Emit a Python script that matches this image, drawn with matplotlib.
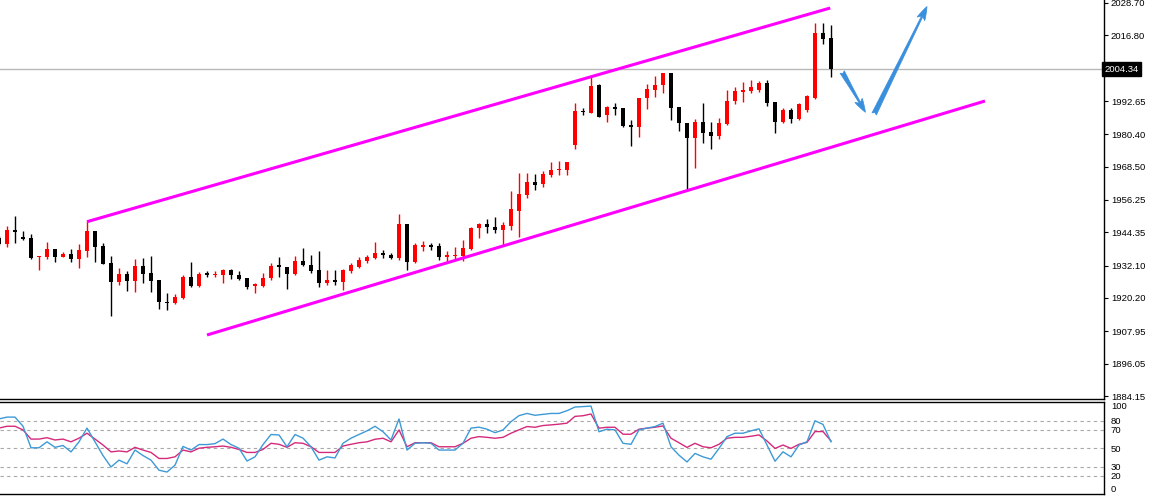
import matplotlib
matplotlib.use("Agg")
import matplotlib.pyplot as plt
import matplotlib.transforms as mtransforms
import numpy as np

plt.rcParams['font.family'] = ['Liberation Sans', 'DejaVu Sans']

# candle data (index -1 is the half visible bar at the left edge)
opens = [1942.37, 1940.06, 1945.21, 1942.74, 1942.26, 1935.17, 1935.17, 1938.11, 1935.28, 1936.38,
         1934.65, 1937.48, 1944.84, 1939.32, 1933.18, 1926.08, 1929.02, 1926.45, 1931.97, 1929.28,
         1926.82, 1918.83, 1918.25, 1920.31, 1927.81, 1924.79, 1929.50, 1928.65, 1928.77, 1930.38,
         1928.77, 1927.44, 1924.61, 1924.72, 1927.44, 1932.08, 1931.71, 1928.91, 1933.80, 1932.44,
         1930.49, 1925.60, 1926.82, 1925.97, 1930.24, 1931.71, 1933.80, 1934.80, 1936.75, 1936.19,
         1934.80, 1947.30, 1933.55, 1939.06, 1939.58, 1939.32, 1935.39, 1935.64, 1935.64, 1938.33,
         1945.83, 1947.41, 1946.42, 1945.21, 1946.79, 1952.19, 1958.08, 1962.97, 1962.01, 1965.32,
         1967.27, 1967.27, 1976.47, 1988.97, 1988.35, 1998.43, 1987.50, 1990.56, 1990.19, 1983.82,
         1983.20, 1993.65, 1996.70, 1998.43, 2002.84, 1990.56, 1984.67, 1979.15, 1985.04, 1981.36,
         1979.78, 1984.19, 1992.65, 1996.07, 1996.33, 1996.59, 1999.38, 1992.39, 1985.04, 1989.34,
         1986.03, 1989.34, 1993.87, 2017.77, 2015.71]
highs = [1943.00, 1946.68, 1950.47, 1944.95, 1943.63, 1935.75, 1940.79, 1938.11, 1937.00, 1938.22,
         1940.17, 1948.63, 1944.84, 1940.54, 1935.64, 1931.12, 1930.24, 1934.54, 1934.80, 1935.64,
         1926.82, 1921.92, 1921.67, 1928.54, 1933.44, 1929.76, 1930.24, 1930.13, 1930.75, 1930.75,
         1930.24, 1927.44, 1925.82, 1929.50, 1932.96, 1935.17, 1931.71, 1935.64, 1938.48, 1936.01,
         1937.59, 1930.49, 1930.49, 1930.75, 1933.18, 1935.17, 1936.01, 1940.90, 1938.03, 1936.86,
         1951.09, 1947.30, 1940.31, 1941.27, 1940.54, 1940.31, 1937.59, 1939.06, 1941.53, 1946.42,
         1947.89, 1949.14, 1949.88, 1948.26, 1959.55, 1966.06, 1966.06, 1965.69, 1966.91, 1970.33,
         1970.58, 1970.33, 1991.81, 1990.19, 2001.85, 1998.79, 1990.92, 1991.81, 1990.19, 1985.66,
         1993.87, 1998.79, 2001.96, 2002.84, 2002.84, 1990.56, 1984.67, 1985.92, 1991.81, 1985.04,
         1986.29, 1996.70, 1997.91, 1999.64, 2000.27, 2000.01, 2000.38, 1992.39, 1989.97, 1989.97,
         1991.81, 1994.86, 2021.23, 2021.23, 2020.60]
lows = [1939.69, 1939.06, 1940.31, 1941.53, 1934.54, 1930.49, 1934.43, 1933.33, 1935.17, 1933.33,
        1931.34, 1935.39, 1933.33, 1932.81, 1913.69, 1924.98, 1922.88, 1922.51, 1925.60, 1922.40,
        1916.15, 1915.78, 1917.99, 1919.94, 1924.35, 1924.24, 1928.03, 1927.81, 1925.82, 1927.29,
        1926.82, 1923.51, 1921.92, 1924.35, 1926.82, 1927.81, 1923.40, 1928.54, 1931.97, 1929.28,
        1924.13, 1924.98, 1924.98, 1923.14, 1929.50, 1931.34, 1933.18, 1934.43, 1935.09, 1934.43,
        1934.17, 1930.49, 1933.18, 1937.59, 1937.85, 1934.17, 1933.91, 1934.17, 1933.80, 1937.85,
        1942.15, 1944.21, 1943.99, 1939.69, 1945.21, 1942.74, 1956.87, 1959.92, 1960.91, 1964.59,
        1965.43, 1965.43, 1974.89, 1987.50, 1988.13, 1986.66, 1985.04, 1987.50, 1983.20, 1976.10,
        1979.52, 1989.60, 1994.01, 1995.48, 1985.66, 1981.62, 1959.92, 1967.90, 1977.09, 1974.89,
        1978.57, 1983.71, 1991.55, 1992.39, 1995.48, 1996.07, 1990.81, 1980.99, 1984.45, 1984.67,
        1985.66, 1988.72, 1993.28, 2013.51, 2001.37]
closes = [1940.17, 1945.21, 1944.58, 1942.01, 1935.02, 1935.75, 1938.11, 1935.39, 1936.38, 1934.65,
          1937.85, 1944.84, 1939.06, 1932.81, 1926.19, 1929.02, 1926.56, 1931.97, 1929.13, 1926.56,
          1918.61, 1918.25, 1920.45, 1928.03, 1924.61, 1929.02, 1928.65, 1929.13, 1930.38, 1928.54,
          1927.29, 1924.35, 1925.23, 1927.44, 1932.08, 1931.71, 1928.91, 1933.80, 1932.22, 1930.24,
          1925.60, 1926.82, 1925.97, 1930.49, 1932.33, 1934.17, 1935.39, 1936.64, 1936.01, 1934.80,
          1947.30, 1933.55, 1939.58, 1939.80, 1939.06, 1935.39, 1936.01, 1936.01, 1938.70, 1946.05,
          1947.41, 1946.20, 1945.21, 1947.04, 1952.82, 1958.34, 1962.97, 1961.76, 1965.69, 1967.27,
          1967.64, 1970.22, 1988.97, 1988.50, 1998.17, 1986.88, 1990.56, 1989.82, 1983.57, 1983.20,
          1993.65, 1997.07, 1998.54, 2002.84, 1990.19, 1984.45, 1979.15, 1985.04, 1980.99, 1979.89,
          1984.67, 1992.65, 1996.33, 1996.70, 1997.91, 1999.38, 1992.03, 1985.04, 1989.34, 1986.03,
          1991.44, 1994.49, 2017.77, 2015.57, 2004.34]

# stochastic lines
stoch_k = [82, 84, 84, 74, 50.5, 50.5, 57, 51, 53, 46, 57, 72, 57, 42, 29.5, 37, 33, 48, 42, 37,
           26, 24, 31.5, 52, 48, 54, 54, 55, 60, 54, 50, 36, 40.6, 54, 65, 64.5, 51.6, 65, 61, 51.6,
           37, 40.6, 39.4, 55.4, 61, 65, 69, 74, 68, 59, 82, 48, 55.4, 56, 55.4, 48, 48, 48, 55.4,
           72, 73, 70.8, 67, 70, 79, 85.6, 88, 86, 87, 88, 88, 91, 95, 95.5, 96, 68, 70.8, 70, 55.4,
           54.3, 70, 72, 73.7, 77.4, 51.6, 42.4, 35, 44.3, 40.6, 38, 49.8, 62.7, 66.4, 66.4, 69,
           71.2, 53.5, 35.8, 46.1, 40.6, 53.5, 57.1, 80, 76, 57]
stoch_d = [72, 74, 74, 70, 60, 60, 61.5, 59, 60, 57, 61, 66.4, 60, 53.5, 46, 47, 46, 51, 48, 45.4,
           38.8, 38.8, 40.6, 48, 46, 50, 51, 51.6, 52.4, 51, 48.7, 45.4, 45.4, 48.7, 55.4, 54.3, 51,
           56, 55.4, 51.6, 45.4, 45.4, 45.4, 52.4, 54.3, 56, 57, 59.8, 60.9, 57, 70, 51.6, 56, 56,
           56, 51.6, 51.6, 51.6, 55.4, 60.9, 62.7, 61.9, 60.9, 61.9, 66.4, 70.1, 73.7, 72.9, 74.8,
           75.5, 76.3, 77.4, 84.8, 85.5, 87.4, 71.9, 72.9, 72.9, 65.3, 65.3, 70.8, 71.9, 72.9, 74.4,
           60.9, 56, 50.9, 55.4, 51.6, 50.5, 54.3, 60.9, 61.9, 61.9, 63.1, 64.5, 57.9, 49.8, 53.5,
           49.8, 54.3, 56.4, 68.2, 68.2, 57.9]

# channel lines (bar index, price)
upper_x = [10, 102.9]
upper_y = [1948.26, 2026.86]
lower_x = [25, 122.25]
lower_y = [1906.59, 1992.65]

# blue arrows (start, end)
arrow1 = [(104.4, 2003.3), (107.3, 1988.5)]
arrow2 = [(108.4, 1987.9), (115.0, 2027.4)]

price_ticks = [2028.70, 2016.80, 1992.65, 1980.40, 1968.50, 1956.25, 1944.35,
               1932.10, 1920.20, 1907.95, 1896.05, 1884.15]
last_price = 2004.34
stoch_levels = [20, 30, 50, 70, 80]
stoch_ticks = [100, 80, 70, 50, 30, 20, 0]

idx = np.arange(-1, len(opens) - 1)
opens = np.array(opens)
closes = np.array(closes)
highs = np.array(highs)
lows = np.array(lows)

fig = plt.figure(figsize=(11.52, 4.96), dpi=100)
W, H = 1152, 496
ax = fig.add_axes([0, (H - 399) / H, 1104 / W, 399 / H])
ax2 = fig.add_axes([0, (H - 494) / H, 1104 / W, 92 / H])

up = closes >= opens
colors = np.where(up, '#ff0000', '#000000')

ax.vlines(idx, lows, highs, colors=colors, lw=1.0, zorder=2)
body_h = np.maximum(np.abs(closes - opens), 0.45)
body_b = np.minimum(opens, closes)
ax.bar(idx, body_h, bottom=body_b, width=0.62, color=colors, linewidth=0, zorder=3)

ax.axhline(last_price, color='#b8b8b8', lw=1.0, zorder=1)

ax.plot(upper_x, upper_y, color='#ff00ff', lw=2.2, solid_capstyle='butt', zorder=4)
ax.plot(lower_x, lower_y, color='#ff00ff', lw=2.2, solid_capstyle='butt', zorder=4)

# tapered arrows, thin at the start
for (x0, y0), (x1, y1) in [arrow1, arrow2]:
    ax.annotate('', xy=(x1, y1), xytext=(x0, y0),
                arrowprops=dict(arrowstyle='fancy,head_length=0.9,head_width=0.55,tail_width=0.32',
                                fc='#3a8fdc', ec='#3a8fdc', lw=0.5, mutation_scale=11,
                                shrinkA=0, shrinkB=0),
                zorder=5)

ax.set_xlim(-0.875, 137.125)
ax.set_ylim(1883.05, 2029.80)
ax.yaxis.tick_right()
ax.set_yticks(price_ticks)
ax.set_yticklabels([f"{v:.2f}" for v in price_ticks])
ax.tick_params(axis='y', direction='out', length=3, width=0.8, pad=2, labelsize=6.8, colors='black')
ax.set_xticks([])
for s in ['top', 'left']:
    ax.spines[s].set_visible(False)
ax.spines['right'].set_linewidth(1.0)
ax.spines['bottom'].set_linewidth(1.0)

trans = mtransforms.blended_transform_factory(ax.transAxes, ax.transData)
ax.text(1.0, last_price, "2004.34", transform=trans, ha='left', va='center',
        fontsize=6.8, color='white', clip_on=False,
        bbox=dict(boxstyle='square,pad=0.25', fc='black', ec='black'))

# stochastic panel
for lv in stoch_levels:
    ax2.axhline(lv, color='#a8a8a8', lw=0.8, ls=(0, (3, 3)), zorder=1)
ax2.plot(idx, stoch_k, color='#3d9ad6', lw=1.0, zorder=3)
ax2.plot(idx, stoch_d, color='#d42a7c', lw=1.0, zorder=2)
ax2.set_xlim(-0.875, 137.125)
ax2.set_ylim(0, 100.5)
ax2.yaxis.tick_right()
ax2.set_yticks(stoch_ticks)
ax2.set_yticklabels([str(v) for v in stoch_ticks])
ax2.tick_params(axis='y', direction='out', length=0, pad=5, labelsize=6.8)
labels = ax2.get_yticklabels()
labels[0].set_va('top')
labels[-1].set_va('bottom')
ax2.set_xticks([])
ax2.spines['left'].set_visible(False)
for s in ['top', 'bottom', 'right']:
    ax2.spines[s].set_linewidth(1.0)

fig.savefig('out.png', dpi=100)
